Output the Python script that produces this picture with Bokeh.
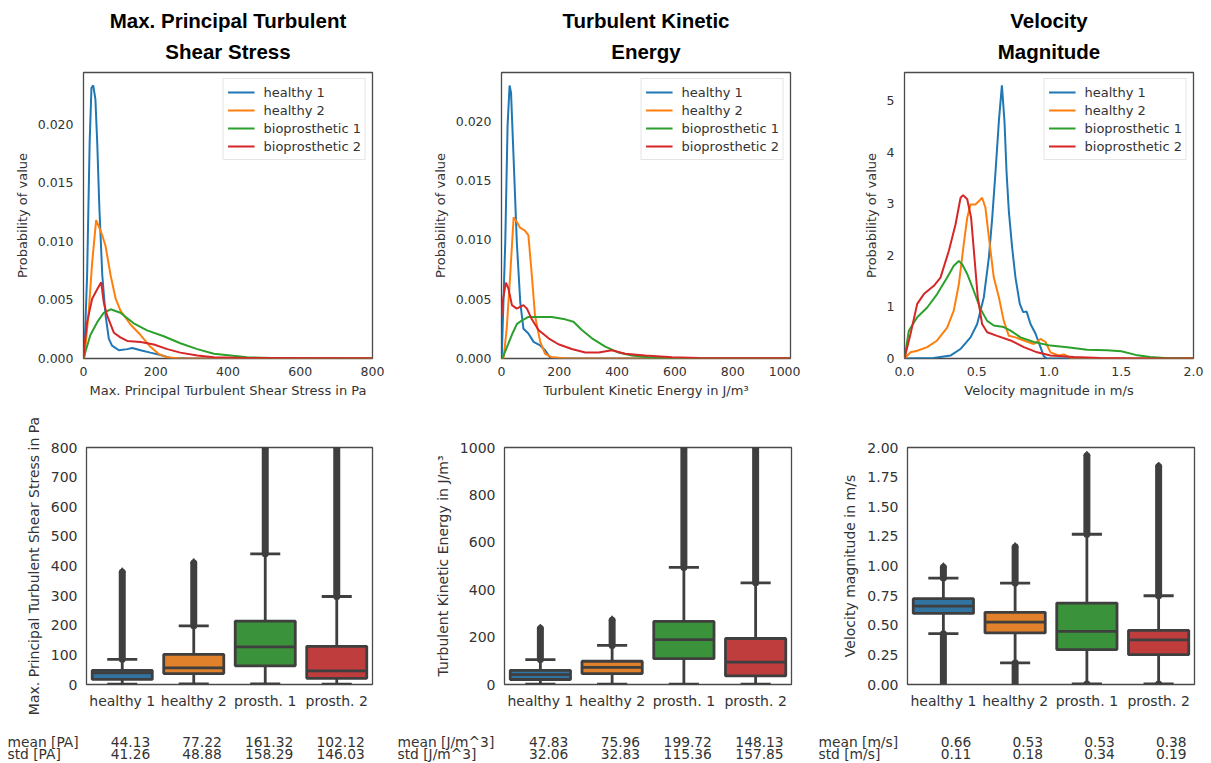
from bokeh.plotting import figure
from bokeh.layouts import column, row
from bokeh.models import (FixedTicker, NumeralTickFormatter, Range1d, FactorRange,
                          ColumnDataSource, Title)
from bokeh.core.properties import value
from bokeh.transform import dodge
from bokeh.embed import file_html
from bokeh.resources import INLINE

FONT = "DejaVu Sans"
TITLE_FONT = "Liberation Sans"
TEXT = "#333333"
EDGE = "#3f3f3f"
FRAME = "#4a4a4a"

# ---------------------------------------------------------------- series
series_names = ["healthy 1", "healthy 2", "bioprosthetic 1", "bioprosthetic 2"]
line_colors = ["#1f77b4", "#ff7f0e", "#2ca02c", "#d62728"]
groups = ["healthy 1", "healthy 2", "prosth. 1", "prosth. 2"]
box_colors = ["#3274a1", "#e1812c", "#3a923a", "#c03d3e"]

# ---------------------------------------------------------------- density: max. principal turbulent shear stress [Pa]
shear_h1_x = [0, 3, 10, 17, 22, 27, 33, 38, 44, 52, 61, 70, 79, 98, 121, 135, 158, 185, 213, 241, 300, 800]
shear_h1_y = [0, 0.001, 0.0071, 0.0184, 0.0231, 0.0233, 0.0221, 0.0184, 0.0128, 0.0071, 0.0037, 0.0017,
              0.0011, 0.0007, 0.0008, 0.0009, 0.0007, 0.0005, 0.0003, 0.00005, 0, 0]
shear_h2_x = [0, 3, 15, 24, 35, 42, 52, 61, 75, 89, 102, 130, 158, 185, 208, 231, 268, 800]
shear_h2_y = [0, 0.0002, 0.0042, 0.0082, 0.0118, 0.0113, 0.0105, 0.0096, 0.0071, 0.0051, 0.0041, 0.0029,
              0.0020, 0.0010, 0.0004, 0.0001, 0, 0]
shear_b1_x = [0, 19, 38, 56, 75, 102, 139, 176, 222, 268, 315, 361, 407, 453, 545, 800]
shear_b1_y = [0, 0.002, 0.0031, 0.0039, 0.0042, 0.0039, 0.0030, 0.0024, 0.0019, 0.0013, 0.0008, 0.0004,
              0.00025, 0.0001, 0.00003, 0.00001]
shear_b2_x = [0, 3, 10, 24, 38, 49, 56, 65, 84, 102, 121, 158, 195, 232, 268, 315, 361, 450, 800]
shear_b2_y = [0, 0.0012, 0.0031, 0.0051, 0.0059, 0.0065, 0.0048, 0.0037, 0.0022, 0.0018, 0.0015, 0.0014,
              0.0012, 0.0008, 0.0005, 0.00025, 0.0001, 0.00005, 0.00002]

# ---------------------------------------------------------------- density: turbulent kinetic energy [J/m^3]
tke_h1_x = [0, 1, 13, 21, 28, 33, 42, 53, 65, 76, 93, 111, 134, 151, 168, 186, 1000]
tke_h1_y = [0, 0.0002, 0.0098, 0.0196, 0.023, 0.0224, 0.0168, 0.0098, 0.0047, 0.0025, 0.0021, 0.0014,
            0.0011, 0.0007, 0.0001, 0, 0]
tke_h2_x = [0, 7, 18, 30, 42, 53, 65, 80, 93, 105, 116, 134, 151, 174, 220, 272, 1000]
tke_h2_y = [0, 0, 0.0025, 0.007, 0.0119, 0.0115, 0.011, 0.0108, 0.0104, 0.007, 0.0036, 0.0014, 0.0004,
            0.0001, 0.00003, 0, 0]
tke_b1_x = [0, 3, 36, 53, 70, 93, 140, 174, 220, 249, 278, 313, 359, 405, 451, 509, 567, 700, 1000]
tke_b1_y = [0, 0, 0.0020, 0.0029, 0.0032, 0.0035, 0.0035, 0.0035, 0.0033, 0.0031, 0.0024, 0.0017, 0.001,
            0.0005, 0.00025, 0.0001, 0.00003, 0.00001, 0]
tke_b2_x = [0, 2, 15, 24, 36, 53, 76, 88, 105, 128, 163, 197, 243, 290, 336, 382, 428, 497, 590, 682, 1000]
tke_b2_y = [0.0035, 0.0045, 0.0064, 0.0059, 0.0045, 0.0042, 0.0045, 0.0042, 0.0033, 0.0024, 0.0017, 0.0012,
            0.0008, 0.0005, 0.0005, 0.0007, 0.0004, 0.00025, 0.0001, 0.00005, 0.00002]

# ---------------------------------------------------------------- density: velocity magnitude [m/s]
vel_h1_x = [0, 0.2, 0.32, 0.39, 0.457, 0.503, 0.549, 0.584, 0.607, 0.63, 0.653, 0.674, 0.692, 0.706, 0.722,
            0.745, 0.768, 0.798, 0.821, 0.845, 0.872, 0.907, 0.941, 0.964, 0.987, 2.0]
vel_h1_y = [0, 0.01, 0.06, 0.19, 0.41, 0.67, 1.19, 1.96, 2.73, 3.63, 4.6, 5.30, 4.6, 3.63, 2.86, 2.15, 1.57,
            1.06, 0.90, 0.91, 0.67, 0.48, 0.22, 0.04, 0, 0]
vel_h2_x = [0, 0.042, 0.088, 0.157, 0.226, 0.295, 0.341, 0.376, 0.41, 0.434, 0.457, 0.491, 0.514, 0.537,
            0.56, 0.584, 0.618, 0.653, 0.687, 0.722, 0.768, 0.826, 0.895, 0.941, 0.976, 1.01, 1.068, 1.103,
            1.149, 1.26, 2.0]
vel_h2_y = [0, 0.12, 0.15, 0.22, 0.35, 0.6, 0.93, 1.44, 2.22, 2.73, 2.99, 2.99, 3.05, 3.12, 2.93, 2.35, 1.57,
            1.19, 0.73, 0.44, 0.41, 0.35, 0.28, 0.38, 0.32, 0.12, 0.06, 0.08, 0.01, 0, 0]
vel_b1_x = [0, 0.03, 0.088, 0.157, 0.226, 0.295, 0.341, 0.376, 0.399, 0.434, 0.48, 0.526, 0.572, 0.618,
            0.687, 0.734, 0.803, 0.895, 1.01, 1.126, 1.264, 1.4, 1.5, 1.6, 1.7, 1.8, 2.0]
vel_b1_y = [0, 0.54, 0.8, 0.99, 1.25, 1.57, 1.8, 1.89, 1.83, 1.64, 1.31, 0.96, 0.73, 0.64, 0.61, 0.54, 0.41,
            0.32, 0.25, 0.22, 0.17, 0.16, 0.14, 0.07, 0.03, 0.01, 0]
vel_b2_x = [0, 0.042, 0.088, 0.134, 0.203, 0.249, 0.307, 0.353, 0.388, 0.406, 0.434, 0.461, 0.484, 0.507,
            0.537, 0.572, 0.641, 0.734, 0.826, 0.918, 1.01, 1.172, 1.356, 1.59, 2.0]
vel_b2_y = [0, 0.48, 1.06, 1.25, 1.41, 1.57, 2.09, 2.6, 3.12, 3.17, 3.09, 2.73, 1.96, 1.19, 0.67, 0.51, 0.44,
            0.35, 0.22, 0.12, 0.06, 0.03, 0.01, 0, 0]

# ---------------------------------------------------------------- box statistics
shear_q1 = [17, 37, 63, 21]
shear_med = [39, 56, 127, 46]
shear_q3 = [48, 102, 214, 129]
shear_wlo = [1, 2, 2, 1]
shear_whi = [85, 198, 441, 297]
shear_out_hi = [379, 410, 800, 800]
shear_mean = [44.13, 77.22, 161.32, 102.12]
shear_std = [41.26, 48.88, 158.29, 146.03]

tke_q1 = [21, 46, 109, 36]
tke_med = [42, 72, 189, 94]
tke_q3 = [60, 98, 266, 194]
tke_wlo = [2, 2, 2, 2]
tke_whi = [105, 165, 494, 429]
tke_out_hi = [236, 271, 1000, 1000]
tke_mean = [47.83, 75.96, 199.72, 148.13]
tke_std = [32.06, 32.83, 115.36, 157.85]

vel_q1 = [0.60, 0.435, 0.295, 0.252]
vel_med = [0.662, 0.527, 0.449, 0.376]
vel_q3 = [0.724, 0.609, 0.687, 0.457]
vel_wlo = [0.429, 0.182, 0.005, 0.005]
vel_whi = [0.898, 0.856, 1.268, 0.749]
vel_out_hi = [0.99, 1.16, 1.93, 1.84]
vel_out_lo = [0.01, 0.01, 0.005, 0.005]
vel_mean = [0.66, 0.53, 0.53, 0.38]
vel_std = [0.11, 0.18, 0.34, 0.19]


def style_axes(p, tick_size, label_size):
    for ax in (p.xaxis[0], p.yaxis[0]):
        ax.major_tick_out = 0
        ax.major_tick_in = 0
        ax.minor_tick_out = 0
        ax.minor_tick_in = 0
        ax.axis_line_color = None
        ax.major_label_text_font = FONT
        ax.major_label_text_font_size = tick_size
        ax.major_label_text_color = TEXT
        ax.axis_label_text_font = FONT
        ax.axis_label_text_font_size = label_size
        ax.axis_label_text_font_style = "normal"
        ax.axis_label_text_color = TEXT
    p.grid.visible = False
    p.outline_line_color = FRAME
    p.outline_line_width = 1.3
    p.background_fill_color = "white"
    p.border_fill_color = "white"


def title_line(text, standoff, shift, valign):
    return Title(text=text, align="center", offset=shift, text_font=TITLE_FONT, text_font_size="20.5px",
                 text_font_style="bold", text_color="#000000", standoff=standoff, vertical_align=valign)


def density_panel(title_lines, shift, xlabel, xs, ys, x_end, y_end, xticks, yticks, xfmt, yfmt,
                  width, left, right):
    p = figure(width=width, height=400, x_range=Range1d(0, x_end), y_range=Range1d(0, y_end),
               output_backend="svg", toolbar_location=None, title=None,
               min_border_left=left, min_border_right=right, min_border_top=72, min_border_bottom=42)
    # the lower title line sits next to the frame, the upper one directly above it
    p.add_layout(title_line(title_lines[1], 16, shift, "top"), "above")
    p.add_layout(title_line(title_lines[0], 0, shift, "bottom"), "above")
    for x, y, name, c in zip(xs, ys, series_names, line_colors):
        p.line(x, y, line_color=c, line_width=2, legend_label=name)
    style_axes(p, "12.5px", "13px")
    p.xaxis.axis_label = xlabel
    p.yaxis.axis_label = "Probability of value"
    p.xaxis.ticker = FixedTicker(ticks=xticks)
    p.yaxis.ticker = FixedTicker(ticks=yticks)
    p.xaxis.formatter = NumeralTickFormatter(format=xfmt)
    p.yaxis.formatter = NumeralTickFormatter(format=yfmt)
    p.xaxis.major_label_standoff = 8
    p.xaxis.axis_label_standoff = 4
    p.yaxis.major_label_standoff = 10
    p.yaxis.axis_label_standoff = 5
    lg = p.legend[0]
    lg.location = "top_right"
    lg.margin = 6
    lg.padding = 4
    lg.spacing = 0
    lg.label_height = 18
    lg.glyph_height = 18
    lg.glyph_width = 27
    lg.label_standoff = 9
    lg.label_text_font = FONT
    lg.label_text_font_size = "13px"
    lg.label_text_color = TEXT
    lg.border_line_color = "#cccccc"
    lg.border_line_width = 1
    lg.background_fill_alpha = 1
    return p


BOX_H = 320
STATS_H = 43


def box_panel(ylabel, q1, med, q3, wlo, whi, out_hi, out_lo, y_end, yticks, yfmt,
              width, left, right):
    p = figure(width=width, height=BOX_H, x_range=FactorRange(*groups), y_range=Range1d(0, y_end),
               output_backend="svg", toolbar_location=None, frame_align=False,
               min_border_left=left, min_border_right=right, min_border_top=47, min_border_bottom=36)
    src = ColumnDataSource(dict(g=groups, q1=q1, med=med, q3=q3, wlo=wlo, whi=whi,
                                out_hi=out_hi, color=box_colors))
    # outliers beyond the upper whisker
    p.segment(x0="g", x1="g", y0="whi", y1="out_hi", source=src, line_color=EDGE, line_width=7,
              line_cap="round")
    p.scatter(x="g", y="out_hi", source=src, marker="diamond", size=9, fill_color=EDGE, line_color=EDGE)
    if out_lo is not None:
        src_lo = ColumnDataSource(dict(g=groups, wlo=wlo, out_lo=out_lo))
        p.segment(x0="g", x1="g", y0="out_lo", y1="wlo", source=src_lo, line_color=EDGE, line_width=7,
                  line_cap="round")
    # whiskers and caps
    p.segment(x0="g", x1="g", y0="wlo", y1="whi", source=src, line_color=EDGE, line_width=2.8)
    for col in ("wlo", "whi"):
        p.segment(x0=dodge("g", -0.21, range=p.x_range), x1=dodge("g", 0.21, range=p.x_range),
                  y0=col, y1=col, source=src, line_color=EDGE, line_width=2.8)
    # boxes and medians
    p.vbar(x="g", bottom="q1", top="q3", width=0.84, source=src, fill_color="color",
           line_color=EDGE, line_width=2.8)
    p.segment(x0=dodge("g", -0.42, range=p.x_range), x1=dodge("g", 0.42, range=p.x_range),
              y0="med", y1="med", source=src, line_color=EDGE, line_width=2.8)
    style_axes(p, "14px", "14px")
    p.yaxis.axis_label = ylabel
    p.yaxis.ticker = FixedTicker(ticks=yticks)
    p.yaxis.formatter = NumeralTickFormatter(format=yfmt)
    p.x_range.range_padding = 0
    p.xaxis.major_label_standoff = 8
    p.yaxis.major_label_standoff = 9
    p.yaxis.axis_label_standoff = 6
    return p


def stats_strip(unit, means, stds, width, left, right, head_px):
    # numeric x range laid out so that index + 0.5 falls under each box centre
    px_per_group = (width - left - right) / len(groups)
    x0 = -left / px_per_group
    s = figure(width=width, height=STATS_H, x_range=Range1d(x0, x0 + width / px_per_group),
               y_range=Range1d(-0.75, 2.833), output_backend="svg", toolbar_location=None,
               x_axis_type=None, y_axis_type=None, title=None, frame_align=False,
               min_border=0, min_border_left=0, min_border_right=0, min_border_top=0, min_border_bottom=0)
    s.outline_line_color = None
    s.grid.visible = False
    centres = [i + 0.5 for i in range(len(groups))]
    vals = ColumnDataSource(dict(x=centres * 2, y=[1] * len(means) + [0] * len(stds),
                                 t=[f"{v:.2f}" for v in means] + [f"{v:.2f}" for v in stds]))
    s.text(x="x", y="y", text="t", source=vals, x_offset=28, text_align="right",
           text_baseline="middle", text_font=value(FONT), text_font_size="13.8px", text_color=TEXT)
    heads = ColumnDataSource(dict(x=[x0, x0], y=[1, 0], t=[f"mean [{unit}]", f"std [{unit}]"]))
    s.text(x="x", y="y", text="t", source=heads, x_offset=head_px, text_align="left",
           text_baseline="middle", text_font=value(FONT), text_font_size="13.8px", text_color=TEXT)
    return s


f1 = density_panel(["Max. Principal Turbulent", "Shear Stress"], -6,
                   "Max. Principal Turbulent Shear Stress in Pa",
                   [shear_h1_x, shear_h2_x, shear_b1_x, shear_b2_x],
                   [shear_h1_y, shear_h2_y, shear_b1_y, shear_b2_y],
                   800, 0.0244, [0, 200, 400, 600, 800], [0, 0.005, 0.010, 0.015, 0.020],
                   "0", "0.000", 400, 83, 28)
f2 = density_panel(["Turbulent Kinetic", "Energy"], 3, "Turbulent Kinetic Energy in J/m³",
                   [tke_h1_x, tke_h2_x, tke_b1_x, tke_b2_x],
                   [tke_h1_y, tke_h2_y, tke_b1_y, tke_b2_y],
                   1000, 0.0241, [0, 200, 400, 600, 800, 1000], [0, 0.005, 0.010, 0.015, 0.020],
                   "0", "0.000", 400, 101, 10)
f3 = density_panel(["Velocity", "Magnitude"], -4, "Velocity magnitude in m/s",
                   [vel_h1_x, vel_h2_x, vel_b1_x, vel_b2_x],
                   [vel_h1_y, vel_h2_y, vel_b1_y, vel_b2_y],
                   2.0, 5.55, [0, 0.5, 1.0, 1.5, 2.0], [0, 1, 2, 3, 4, 5],
                   "0.0", "0", 411, 104, 18)

f4 = box_panel("Max. Principal Turbulent Shear Stress in Pa", shear_q1, shear_med, shear_q3, shear_wlo,
               shear_whi, shear_out_hi, None, 800, list(range(0, 801, 100)), "0", 395, 86, 23)
f5 = box_panel("Turbulent Kinetic Energy in J/m³", tke_q1, tke_med, tke_q3, tke_wlo, tke_whi, tke_out_hi,
               None, 1000, list(range(0, 1001, 200)), "0", 405, 109, 9)
f6 = box_panel("Velocity magnitude in m/s", vel_q1, vel_med, vel_q3, vel_wlo, vel_whi, vel_out_hi,
               vel_out_lo, 2.0, [0, 0.25, 0.5, 0.75, 1.0, 1.25, 1.5, 1.75, 2.0], "0.00", 411, 107, 17)

s4 = stats_strip("PA", shear_mean, shear_std, 395, 86, 23, 7)
s5 = stats_strip("J/m^3", tke_mean, tke_std, 405, 109, 9, 2)
s6 = stats_strip("m/s", vel_mean, vel_std, 411, 107, 17, 18)

layout = column(row(f1, f2, f3), row(column(f4, s4), column(f5, s5), column(f6, s6)))

with open("out.html", "w") as fh:
    fh.write(file_html(layout, INLINE))
